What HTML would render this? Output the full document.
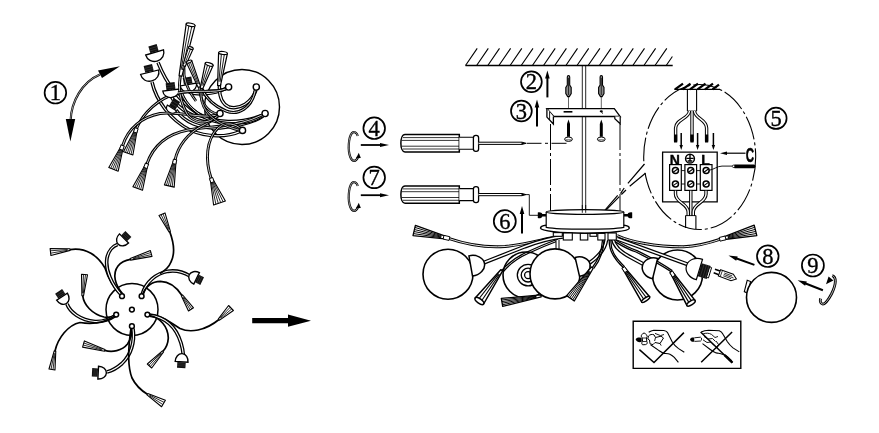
<!DOCTYPE html>
<html><head><meta charset="utf-8"><title>Assembly</title>
<style>
html,body{margin:0;padding:0;background:#fff;}
body{width:879px;height:433px;overflow:hidden;font-family:"Liberation Sans",sans-serif;}
svg{display:block;}
text{filter:grayscale(1);}
</style></head><body>
<svg width="879" height="433" viewBox="0 0 879 433">
<rect width="879" height="433" fill="#fff"/>
<circle cx="55.4" cy="92.7" r="10.8" fill="#fff" stroke="#000" stroke-width="1.7"/>
<text x="55.4" y="100.2" font-size="22.5" text-anchor="middle" font-family="&quot;Liberation Serif&quot;, serif" stroke="#000" stroke-width="0.35">1</text>
<path d="M70.6 121 C71 102 82 82 100 74.5" fill="none" stroke="#000" stroke-width="2.2" />
<path d="M70.6 121 C71 102 82 82 100 74.5" fill="none" stroke="#fff" stroke-width="0.6" />
<path d="M120 66.2L98 70.6L102 78Z" fill="#000"/>
<path d="M70.4 141.5L65.8 119L75.2 119Z" fill="#000"/>
<circle cx="242" cy="107" r="37.5" fill="none" stroke="#000" stroke-width="1.4"/>
<path d="M158 62.5 C165 80 178 100 197 113 C215 124 240 124 262 115.5" fill="none" stroke="#000" stroke-width="3.5" stroke-linecap="butt"/>
<path d="M158 62.5 C165 80 178 100 197 113 C215 124 240 124 262 115.5" fill="none" stroke="#fff" stroke-width="1.1" stroke-linecap="butt"/>
<path d="M152 82 C156 100 170 120 190 130 C208 138 228 137 240 131.5" fill="none" stroke="#000" stroke-width="3.5" stroke-linecap="butt"/>
<path d="M152 82 C156 100 170 120 190 130 C208 138 228 137 240 131.5" fill="none" stroke="#fff" stroke-width="1.1" stroke-linecap="butt"/>
<path d="M171 96 C176 106 188 115 203 119 C210 120.5 215 118 218 115.5" fill="none" stroke="#000" stroke-width="3.5" stroke-linecap="butt"/>
<path d="M171 96 C176 106 188 115 203 119 C210 120.5 215 118 218 115.5" fill="none" stroke="#fff" stroke-width="1.1" stroke-linecap="butt"/>
<path d="M189 92 C197 95 212 95 226 88.5" fill="none" stroke="#000" stroke-width="3.5" stroke-linecap="butt"/>
<path d="M189 92 C197 95 212 95 226 88.5" fill="none" stroke="#fff" stroke-width="1.1" stroke-linecap="butt"/>
<path d="M256 90 C252 102 240 110 229 107 C220 103 219 92 219.5 84" fill="none" stroke="#000" stroke-width="3.5" stroke-linecap="butt"/>
<path d="M256 90 C252 102 240 110 229 107 C220 103 219 92 219.5 84" fill="none" stroke="#fff" stroke-width="1.1" stroke-linecap="butt"/>
<path d="M176 110 C184 122 200 129 220 128 C240 126 256 121 263 116" fill="none" stroke="#000" stroke-width="3.5" stroke-linecap="butt"/>
<path d="M176 110 C184 122 200 129 220 128 C240 126 256 121 263 116" fill="none" stroke="#fff" stroke-width="1.1" stroke-linecap="butt"/>
<path d="M255.3 90 C252 108 238 116 226 111 C214 106 206 98 202 89" fill="none" stroke="#000" stroke-width="3.1" stroke-linecap="butt"/>
<path d="M255.3 90 C252 108 238 116 226 111 C214 106 206 98 202 89" fill="none" stroke="#fff" stroke-width="0.9" stroke-linecap="butt"/>
<path d="M262 116 C250 124 228 126 210 120 C196 114 186 104 182 94" fill="none" stroke="#000" stroke-width="3.1" stroke-linecap="butt"/>
<path d="M262 116 C250 124 228 126 210 120 C196 114 186 104 182 94" fill="none" stroke="#fff" stroke-width="0.9" stroke-linecap="butt"/>
<path d="M136.4 128.7 C143 113 158.5 98 178 93 C196 89 214 94 226.3 88.7" fill="none" stroke="#000" stroke-width="2.9" stroke-linecap="butt"/>
<path d="M136.4 128.7 C143 113 158.5 98 178 93 C196 89 214 94 226.3 88.7" fill="none" stroke="#fff" stroke-width="0.8" stroke-linecap="butt"/>
<path d="M122.5 146 C128 128 142 117 160 113.5 C180 111 200 119 218 115" fill="none" stroke="#000" stroke-width="2.9" stroke-linecap="butt"/>
<path d="M122.5 146 C128 128 142 117 160 113.5 C180 111 200 119 218 115" fill="none" stroke="#fff" stroke-width="0.8" stroke-linecap="butt"/>
<path d="M146.8 164.2 C153 146 167 134 188 130 C208 126 236 128 262 115" fill="none" stroke="#000" stroke-width="2.9" stroke-linecap="butt"/>
<path d="M146.8 164.2 C153 146 167 134 188 130 C208 126 236 128 262 115" fill="none" stroke="#fff" stroke-width="0.8" stroke-linecap="butt"/>
<path d="M175 160 C178 146 188 133 202 126 C210 122 216 118 218.5 115.5" fill="none" stroke="#000" stroke-width="2.9" stroke-linecap="butt"/>
<path d="M175 160 C178 146 188 133 202 126 C210 122 216 118 218.5 115.5" fill="none" stroke="#fff" stroke-width="0.8" stroke-linecap="butt"/>
<path d="M211.2 178.5 C205 160 206 140 218 128 C226 121 236 124 241 129" fill="none" stroke="#000" stroke-width="2.9" stroke-linecap="butt"/>
<path d="M211.2 178.5 C205 160 206 140 218 128 C226 121 236 124 241 129" fill="none" stroke="#fff" stroke-width="0.8" stroke-linecap="butt"/>
<g transform="translate(154.6 52.4) rotate(-106.5) scale(1)">
<path d="M0 -9.3 C-4.95 -9.3 -9 -5.58 -9 0 C-9 5.58 -4.95 9.3 0 9.3 Z" fill="#fff" stroke="#000" stroke-width="1.30"/>
<rect x="0.4" y="-4.3" width="7" height="8.6" fill="#111"/>
<path d="M2.7 -4.3V4.3M4.9 -4.3V4.3" stroke="#555" stroke-width="0.4"/>
</g>
<g transform="translate(149.6 72.2) rotate(-104) scale(1)">
<path d="M0 -9.3 C-4.95 -9.3 -9 -5.58 -9 0 C-9 5.58 -4.95 9.3 0 9.3 Z" fill="#fff" stroke="#000" stroke-width="1.30"/>
<rect x="0.4" y="-4.3" width="7" height="8.6" fill="#111"/>
<path d="M2.7 -4.3V4.3M4.9 -4.3V4.3" stroke="#555" stroke-width="0.4"/>
</g>
<g transform="translate(171 90) rotate(-97) scale(1)">
<path d="M0 -8.3 C-4.125 -8.3 -7.5 -4.98 -7.5 0 C-7.5 4.98 -4.125 8.3 0 8.3 Z" fill="#fff" stroke="#000" stroke-width="1.30"/>
<rect x="0.4" y="-4.5" width="7" height="9" fill="#111"/>
<path d="M2.7 -4.5V4.5M4.9 -4.5V4.5" stroke="#555" stroke-width="0.4"/>
</g>
<g transform="translate(188.3 84.5) rotate(-100) scale(1)">
<path d="M0 -8.3 C-4.125 -8.3 -7.5 -4.98 -7.5 0 C-7.5 4.98 -4.125 8.3 0 8.3 Z" fill="#fff" stroke="#000" stroke-width="1.30"/>
<rect x="0.4" y="-4.3" width="7" height="8.6" fill="#111"/>
<path d="M2.7 -4.3V4.3M4.9 -4.3V4.3" stroke="#555" stroke-width="0.4"/>
</g>
<g transform="translate(172 108) rotate(-58) scale(1)">
<path d="M0 -5.5 C-2.75 -5.5 -5 -3.3 -5 0 C-5 3.3 -2.75 5.5 0 5.5 Z" fill="#fff" stroke="#000" stroke-width="1.20"/>
<rect x="0.4" y="-3.75" width="9" height="7.5" fill="#111"/>
<path d="M3.4 -3.75V3.75M6.3 -3.75V3.75" stroke="#555" stroke-width="0.4"/>
</g>
<path d="M180.3 76 C178 88 180 101 187 114 C193 122 205 126 217 116.5" fill="none" stroke="#000" stroke-width="2.9" stroke-linecap="butt"/>
<path d="M180.3 76 C178 88 180 101 187 114 C193 122 205 126 217 116.5" fill="none" stroke="#fff" stroke-width="0.8" stroke-linecap="butt"/>
<path d="M199.4 87 C200 100 206 112 218 114" fill="none" stroke="#000" stroke-width="2.7" stroke-linecap="butt"/>
<path d="M199.4 87 C200 100 206 112 218 114" fill="none" stroke="#fff" stroke-width="0.7" stroke-linecap="butt"/>
<path d="M201.4 88.5 C199 104 206 122 240 130.4" fill="none" stroke="#000" stroke-width="2.7" stroke-linecap="butt"/>
<path d="M201.4 88.5 C199 104 206 122 240 130.4" fill="none" stroke="#fff" stroke-width="0.7" stroke-linecap="butt"/>
<path d="M184 66 C183 76 186 88 196 101" fill="none" stroke="#000" stroke-width="2.7" stroke-linecap="butt"/>
<path d="M184 66 C183 76 186 88 196 101" fill="none" stroke="#fff" stroke-width="0.7" stroke-linecap="butt"/>
<path d="M178 93 C196 89 214 94 226.3 88.7" fill="none" stroke="#000" stroke-width="2.9" stroke-linecap="butt"/>
<path d="M178 93 C196 89 214 94 226.3 88.7" fill="none" stroke="#fff" stroke-width="0.8" stroke-linecap="butt"/>
<circle cx="228.6" cy="87" r="3.1" fill="#fff" stroke="#000" stroke-width="1.4"/>
<circle cx="256.3" cy="87" r="3.1" fill="#fff" stroke="#000" stroke-width="1.4"/>
<circle cx="220" cy="113.5" r="3.1" fill="#fff" stroke="#000" stroke-width="1.4"/>
<circle cx="265.1" cy="113.5" r="3.1" fill="#fff" stroke="#000" stroke-width="1.4"/>
<circle cx="242.5" cy="130.4" r="3.1" fill="#fff" stroke="#000" stroke-width="1.4"/>
<path d="M181.9 76.3L179.1 75.7L186.2 23.9L195.0 25.7Z" fill="#fff" stroke="#000" stroke-width="1.2" stroke-linejoin="round"/>
<path d="M182.3 70.0L192.1 25.1" stroke="#000" stroke-width="0.90" fill="none"/>
<path d="M181.1 69.7L189.1 24.5" stroke="#000" stroke-width="0.90" fill="none"/>
<ellipse cx="190.6" cy="24.8" rx="1.6" ry="4.5" transform="rotate(-78.8 190.6 24.8)" fill="#fff" stroke="#000" stroke-width="1.2"/>
<path d="M185.2 66.4L182.8 65.6L188.5 47.1L193.1 48.9Z" fill="#fff" stroke="#000" stroke-width="1.1" stroke-linejoin="round"/>
<path d="M184.8 63.8L190.8 48.0" stroke="#000" stroke-width="0.83" fill="none"/>
<ellipse cx="190.8" cy="48.0" rx="1.2" ry="2.5" transform="rotate(-69.3 190.8 48.0)" fill="#fff" stroke="#000" stroke-width="1.1"/>
<path d="M200.6 86.5L198.2 87.5L186.5 62.7L191.7 60.5Z" fill="#fff" stroke="#000" stroke-width="1.1" stroke-linejoin="round"/>
<path d="M198.6 83.8L190.0 61.2" stroke="#000" stroke-width="0.83" fill="none"/>
<path d="M197.7 84.1L188.2 62.0" stroke="#000" stroke-width="0.83" fill="none"/>
<ellipse cx="189.1" cy="61.6" rx="1.2" ry="2.8" transform="rotate(-112.1 189.1 61.6)" fill="#fff" stroke="#000" stroke-width="1.1"/>
<path d="M202.6 88.9L200.2 88.1L205.3 63.0L213.1 65.6Z" fill="#fff" stroke="#000" stroke-width="1.2" stroke-linejoin="round"/>
<path d="M202.9 85.8L210.5 64.7" stroke="#000" stroke-width="0.90" fill="none"/>
<path d="M201.8 85.4L207.9 63.9" stroke="#000" stroke-width="0.90" fill="none"/>
<ellipse cx="209.2" cy="64.3" rx="1.5" ry="4.1" transform="rotate(-72.1 209.2 64.3)" fill="#fff" stroke="#000" stroke-width="1.2"/>
<path d="M220.4 85.8L217.6 85.4L218.6 52.5L227.4 53.5Z" fill="#fff" stroke="#000" stroke-width="1.2" stroke-linejoin="round"/>
<path d="M220.1 81.8L224.5 53.2" stroke="#000" stroke-width="0.90" fill="none"/>
<path d="M218.9 81.6L221.5 52.8" stroke="#000" stroke-width="0.90" fill="none"/>
<ellipse cx="223.0" cy="53.0" rx="1.5" ry="4.4" transform="rotate(-83.0 223.0 53.0)" fill="#fff" stroke="#000" stroke-width="1.2"/>
<path d="M135.4 128.4L137.4 129.0L132.9 155.0L123.5 151.8Z" fill="#fff" stroke="#000" stroke-width="1.1" stroke-linejoin="round"/>
<path d="M134.5 131.4L125.4 152.5" stroke="#000" stroke-width="0.83" fill="none"/>
<path d="M135.1 131.6L127.3 153.1" stroke="#000" stroke-width="0.83" fill="none"/>
<path d="M135.7 131.8L129.1 153.7" stroke="#000" stroke-width="0.83" fill="none"/>
<path d="M136.3 132.0L131.0 154.3" stroke="#000" stroke-width="0.83" fill="none"/>
<rect x="-0.5" y="-1.7" width="4.5" height="3.4" fill="#fff" stroke="#000" stroke-width="0.9" transform="translate(136.4 128.7) rotate(108.4)"/>
<path d="M121.5 145.6L123.5 146.4L118.2 171.2L108.8 167.6Z" fill="#fff" stroke="#000" stroke-width="1.1" stroke-linejoin="round"/>
<path d="M120.5 148.5L110.7 168.3" stroke="#000" stroke-width="0.83" fill="none"/>
<path d="M121.1 148.7L112.6 169.0" stroke="#000" stroke-width="0.83" fill="none"/>
<path d="M121.7 148.9L114.4 169.8" stroke="#000" stroke-width="0.83" fill="none"/>
<path d="M122.3 149.1L116.3 170.5" stroke="#000" stroke-width="0.83" fill="none"/>
<rect x="-0.5" y="-1.7" width="4.5" height="3.4" fill="#fff" stroke="#000" stroke-width="0.9" transform="translate(122.5 146) rotate(111.0)"/>
<path d="M145.8 163.8L147.8 164.6L142.5 190.3L132.9 186.7Z" fill="#fff" stroke="#000" stroke-width="1.1" stroke-linejoin="round"/>
<path d="M144.8 166.8L134.8 187.4" stroke="#000" stroke-width="0.83" fill="none"/>
<path d="M145.4 167.0L136.7 188.1" stroke="#000" stroke-width="0.83" fill="none"/>
<path d="M146.0 167.2L138.7 188.9" stroke="#000" stroke-width="0.83" fill="none"/>
<path d="M146.6 167.4L140.6 189.6" stroke="#000" stroke-width="0.83" fill="none"/>
<rect x="-0.5" y="-1.7" width="4.5" height="3.4" fill="#fff" stroke="#000" stroke-width="0.9" transform="translate(146.8 164.2) rotate(110.5)"/>
<path d="M173.9 159.8L176.1 160.2L174.2 187.1L164.4 184.9Z" fill="#fff" stroke="#000" stroke-width="1.1" stroke-linejoin="round"/>
<path d="M173.4 162.9L166.4 185.4" stroke="#000" stroke-width="0.83" fill="none"/>
<path d="M174.0 163.1L168.3 185.8" stroke="#000" stroke-width="0.83" fill="none"/>
<path d="M174.6 163.2L170.3 186.2" stroke="#000" stroke-width="0.83" fill="none"/>
<path d="M175.2 163.3L172.2 186.6" stroke="#000" stroke-width="0.83" fill="none"/>
<rect x="-0.5" y="-1.7" width="4.5" height="3.4" fill="#fff" stroke="#000" stroke-width="0.9" transform="translate(175 160) rotate(102.4)"/>
<path d="M210.2 178.9L212.2 178.1L225.4 201.0L213.6 205.0Z" fill="#fff" stroke="#000" stroke-width="1.1" stroke-linejoin="round"/>
<path d="M211.2 181.8L215.9 204.2" stroke="#000" stroke-width="0.83" fill="none"/>
<path d="M211.9 181.6L218.3 203.4" stroke="#000" stroke-width="0.83" fill="none"/>
<path d="M212.5 181.3L220.7 202.6" stroke="#000" stroke-width="0.83" fill="none"/>
<path d="M213.2 181.1L223.1 201.8" stroke="#000" stroke-width="0.83" fill="none"/>
<rect x="-0.5" y="-1.7" width="4.5" height="3.4" fill="#fff" stroke="#000" stroke-width="0.9" transform="translate(211.2 178.5) rotate(71.3)"/>
<circle cx="132" cy="309.5" r="26" fill="none" stroke="#000" stroke-width="1.5"/>
<path d="M70 249.6 C86 247 98 256 105 268 C108 278 114 288 121 295" fill="none" stroke="#000" stroke-width="1.7" />
<path d="M121.5 295 C112 285 105 270 107 258 C108.5 251 113 246 117.5 244.5" fill="none" stroke="#000" stroke-width="3.7" stroke-linecap="butt"/>
<path d="M121.5 295 C112 285 105 270 107 258 C108.5 251 113 246 117.5 244.5" fill="none" stroke="#fff" stroke-width="1.1" stroke-linecap="butt"/>
<path d="M82.7 295.8 C84 305 92 314 104 317 C109 318 113 316.5 115.5 315" fill="none" stroke="#000" stroke-width="1.7" />
<path d="M67 304 C70 312 80 320 95 321.5 C104 322 111 318.5 115.5 315.5" fill="none" stroke="#000" stroke-width="3.7" stroke-linecap="butt"/>
<path d="M67 304 C70 312 80 320 95 321.5 C104 322 111 318.5 115.5 315.5" fill="none" stroke="#fff" stroke-width="1.1" stroke-linecap="butt"/>
<path d="M115 316 C105 322.5 92 324.5 80 322.5 C68 325 58 338 55 351" fill="none" stroke="#000" stroke-width="1.7" />
<path d="M104.7 350.4 C112 352.5 122 351 127.5 344 C131 339 132 333 132 328.5" fill="none" stroke="#000" stroke-width="1.7" />
<path d="M133 328.5 C135 342 131 355 122 363.5 C117 368 111 371 107 372" fill="none" stroke="#000" stroke-width="3.7" stroke-linecap="butt"/>
<path d="M133 328.5 C135 342 131 355 122 363.5 C117 368 111 371 107 372" fill="none" stroke="#fff" stroke-width="1.1" stroke-linecap="butt"/>
<path d="M131 328.5 C128.5 345 127 365 132 378 C136 386 142 391 147.4 394.2" fill="none" stroke="#000" stroke-width="1.7" />
<path d="M149.5 314.8 C160 315 170 322 180 328.5 C190 333 205 331 219 319.5" fill="none" stroke="#000" stroke-width="1.7" />
<path d="M149.5 315.2 C165 317 176 327 181 343 C182.5 348 183 351 183.2 354" fill="none" stroke="#000" stroke-width="3.7" stroke-linecap="butt"/>
<path d="M149.5 315.2 C165 317 176 327 181 343 C182.5 348 183 351 183.2 354" fill="none" stroke="#fff" stroke-width="1.1" stroke-linecap="butt"/>
<path d="M150 315.5 C160 318 168 326 168.3 338 C168 344 166 348 163 351.3" fill="none" stroke="#000" stroke-width="1.7" />
<path d="M142.3 294 C146 282 156 273.5 168 271.3 C177 270 185 273 190 276" fill="none" stroke="#000" stroke-width="3.7" stroke-linecap="butt"/>
<path d="M142.3 294 C146 282 156 273.5 168 271.3 C177 270 185 273 190 276" fill="none" stroke="#fff" stroke-width="1.1" stroke-linecap="butt"/>
<path d="M142.5 294.5 C146 286 153 281.5 160.5 281.4 C170 281.5 177 288 182 295.4" fill="none" stroke="#000" stroke-width="1.7" />
<path d="M122.8 294 C115 285 112 274 118 266 C121 262 126 260 130.4 259.3" fill="none" stroke="#000" stroke-width="1.7" />
<path d="M169.7 231.6 C174 243 175 254 171 262 C169 267 166 270 160 273.5" fill="none" stroke="#000" stroke-width="1.7" />
<circle cx="122" cy="296.2" r="2.4" fill="#fff" stroke="#000" stroke-width="1.5"/>
<circle cx="141.6" cy="296.2" r="2.4" fill="#fff" stroke="#000" stroke-width="1.5"/>
<circle cx="116.2" cy="314.6" r="2.4" fill="#fff" stroke="#000" stroke-width="1.5"/>
<circle cx="147.4" cy="314.6" r="2.4" fill="#fff" stroke="#000" stroke-width="1.5"/>
<circle cx="131.9" cy="326.2" r="2.4" fill="#fff" stroke="#000" stroke-width="1.5"/>
<circle cx="131.9" cy="309.6" r="2.4" fill="#fff" stroke="#000" stroke-width="1.5"/>
<g transform="translate(124 238.4) rotate(-45) scale(1.0)">
<path d="M0 -6.4 C-4.51 -6.4 -8.2 -3.84 -8.2 0 C-8.2 3.84 -4.51 6.4 0 6.4 Z" fill="#fff" stroke="#000" stroke-width="1.40"/>
<rect x="0.4" y="-4.2" width="5.8" height="8.4" fill="#111"/>
<path d="M2.2 -4.2V4.2M4.1 -4.2V4.2" stroke="#555" stroke-width="0.4"/>
</g>
<g transform="translate(62 296.6) rotate(-123) scale(1.0)">
<path d="M0 -6.4 C-4.51 -6.4 -8.2 -3.84 -8.2 0 C-8.2 3.84 -4.51 6.4 0 6.4 Z" fill="#fff" stroke="#000" stroke-width="1.40"/>
<rect x="0.4" y="-4.2" width="5.8" height="8.4" fill="#111"/>
<path d="M2.2 -4.2V4.2M4.1 -4.2V4.2" stroke="#555" stroke-width="0.4"/>
</g>
<g transform="translate(98.2 372.6) rotate(183) scale(1.0)">
<path d="M0 -6.4 C-4.51 -6.4 -8.2 -3.84 -8.2 0 C-8.2 3.84 -4.51 6.4 0 6.4 Z" fill="#fff" stroke="#000" stroke-width="1.40"/>
<rect x="0.4" y="-4.2" width="5.8" height="8.4" fill="#111"/>
<path d="M2.2 -4.2V4.2M4.1 -4.2V4.2" stroke="#555" stroke-width="0.4"/>
</g>
<g transform="translate(181.6 361.8) rotate(94) scale(1.0)">
<path d="M0 -6.4 C-4.51 -6.4 -8.2 -3.84 -8.2 0 C-8.2 3.84 -4.51 6.4 0 6.4 Z" fill="#fff" stroke="#000" stroke-width="1.40"/>
<rect x="0.4" y="-4.2" width="5.8" height="8.4" fill="#111"/>
<path d="M2.2 -4.2V4.2M4.1 -4.2V4.2" stroke="#555" stroke-width="0.4"/>
</g>
<g transform="translate(196.6 278.4) rotate(26) scale(1.0)">
<path d="M0 -6.4 C-4.51 -6.4 -8.2 -3.84 -8.2 0 C-8.2 3.84 -4.51 6.4 0 6.4 Z" fill="#fff" stroke="#000" stroke-width="1.40"/>
<rect x="0.4" y="-4.2" width="5.8" height="8.4" fill="#111"/>
<path d="M2.2 -4.2V4.2M4.1 -4.2V4.2" stroke="#555" stroke-width="0.4"/>
</g>
<path d="M69.9 248.8L70.1 250.4L50.9 255.5L50.1 248.5Z" fill="#fff" stroke="#000" stroke-width="1.1" stroke-linejoin="round"/>
<path d="M67.6 249.5L50.4 250.8" stroke="#000" stroke-width="0.83" fill="none"/>
<path d="M67.7 250.3L50.6 253.2" stroke="#000" stroke-width="0.83" fill="none"/>
<path d="M83.5 295.9L81.9 295.7L81.5 274.2L87.5 274.8Z" fill="#fff" stroke="#000" stroke-width="1.1" stroke-linejoin="round"/>
<path d="M83.3 293.3L85.5 274.6" stroke="#000" stroke-width="0.83" fill="none"/>
<path d="M82.6 293.2L83.5 274.4" stroke="#000" stroke-width="0.83" fill="none"/>
<path d="M54.2 350.9L55.8 351.1L55.0 370.0L49.0 369.0Z" fill="#fff" stroke="#000" stroke-width="1.1" stroke-linejoin="round"/>
<path d="M54.3 353.2L51.0 369.3" stroke="#000" stroke-width="0.83" fill="none"/>
<path d="M55.0 353.3L53.0 369.7" stroke="#000" stroke-width="0.83" fill="none"/>
<path d="M104.9 349.6L104.5 351.2L82.6 347.1L84.4 340.9Z" fill="#fff" stroke="#000" stroke-width="1.1" stroke-linejoin="round"/>
<path d="M102.3 349.3L83.8 343.0" stroke="#000" stroke-width="0.83" fill="none"/>
<path d="M102.1 350.0L83.2 345.0" stroke="#000" stroke-width="0.83" fill="none"/>
<path d="M147.0 394.9L147.8 393.5L165.4 400.3L161.6 406.7Z" fill="#fff" stroke="#000" stroke-width="1.1" stroke-linejoin="round"/>
<path d="M149.1 395.6L162.9 404.6" stroke="#000" stroke-width="0.83" fill="none"/>
<path d="M149.5 395.0L164.1 402.4" stroke="#000" stroke-width="0.83" fill="none"/>
<path d="M219.6 320.1L218.4 318.9L228.6 305.5L233.4 310.5Z" fill="#fff" stroke="#000" stroke-width="1.1" stroke-linejoin="round"/>
<path d="M220.7 318.4L231.8 308.8" stroke="#000" stroke-width="0.83" fill="none"/>
<path d="M220.2 317.8L230.2 307.2" stroke="#000" stroke-width="0.83" fill="none"/>
<path d="M162.4 350.8L163.6 351.8L151.7 368.0L147.3 364.0Z" fill="#fff" stroke="#000" stroke-width="1.1" stroke-linejoin="round"/>
<path d="M161.1 352.8L148.8 365.3" stroke="#000" stroke-width="0.83" fill="none"/>
<path d="M161.6 353.3L150.2 366.7" stroke="#000" stroke-width="0.83" fill="none"/>
<path d="M181.3 295.8L182.7 295.0L193.5 307.8L188.5 311.0Z" fill="#fff" stroke="#000" stroke-width="1.1" stroke-linejoin="round"/>
<path d="M182.8 297.3L190.2 309.9" stroke="#000" stroke-width="0.83" fill="none"/>
<path d="M183.4 296.9L191.8 308.9" stroke="#000" stroke-width="0.83" fill="none"/>
<path d="M130.6 260.1L130.2 258.5L150.4 250.6L152.0 256.4Z" fill="#fff" stroke="#000" stroke-width="1.1" stroke-linejoin="round"/>
<path d="M133.0 258.9L151.5 254.5" stroke="#000" stroke-width="0.83" fill="none"/>
<path d="M132.8 258.3L150.9 252.5" stroke="#000" stroke-width="0.83" fill="none"/>
<path d="M170.4 231.3L169.0 231.9L159.0 215.5L165.0 212.9Z" fill="#fff" stroke="#000" stroke-width="1.1" stroke-linejoin="round"/>
<path d="M169.1 229.4L163.0 213.8" stroke="#000" stroke-width="0.83" fill="none"/>
<path d="M168.4 229.7L161.0 214.6" stroke="#000" stroke-width="0.83" fill="none"/>
<path d="M252.2 318.1H288V314.6L311 320.7L288 326.8V323.3H252.2Z" fill="#000"/>
<path d="M465.5 65.5H672.7" fill="none" stroke="#000" stroke-width="1.4" />
<path d="M465.5 65.5L477.2 48.4M476.6 65.5L488.3 48.4M487.8 65.5L499.5 48.4M498.9 65.5L510.6 48.4M510.1 65.5L521.8 48.4M521.2 65.5L533.0 48.4M532.4 65.5L544.1 48.4M543.5 65.5L555.2 48.4M554.7 65.5L566.4 48.4M565.9 65.5L577.5 48.4M577.0 65.5L588.7 48.4M588.1 65.5L599.9 48.4M599.3 65.5L611.0 48.4M610.5 65.5L622.1 48.4M621.6 65.5L633.3 48.4M632.8 65.5L644.5 48.4M643.9 65.5L655.6 48.4M655.0 65.5L666.8 48.4M666.2 65.5L672.4 56.5" fill="none" stroke="#000" stroke-width="1.1" />
<path d="M582.3 65.5V212M585.7 65.5V212" fill="none" stroke="#000" stroke-width="0.85" />
<circle cx="531.4" cy="81.8" r="10.4" fill="#fff" stroke="#000" stroke-width="1.7"/>
<text x="531.4" y="89.3" font-size="22.5" text-anchor="middle" font-family="&quot;Liberation Serif&quot;, serif" stroke="#000" stroke-width="0.35">2</text>
<path d="M547.4 97.4L547.4 77.4" stroke="#000" stroke-width="2" fill="none"/>
<path d="M547.4 70.4L549.7 78.4L545.1 78.4Z" fill="#000"/>
<circle cx="521.4" cy="111" r="10.4" fill="#fff" stroke="#000" stroke-width="1.7"/>
<text x="521.4" y="118.5" font-size="22.5" text-anchor="middle" font-family="&quot;Liberation Serif&quot;, serif" stroke="#000" stroke-width="0.35">3</text>
<path d="M537.0 126.6L537.0 106.5" stroke="#000" stroke-width="2" fill="none"/>
<path d="M537.0 99.5L539.3 107.5L534.7 107.5Z" fill="#000"/>
<path d="M567.3 77 C567.3 75 569.7 75 569.7 77 V85 L571.2 87.5 V93.5 L569.3 96.6 H567.7 L565.8 93.5 V87.5 L567.3 85 Z" fill="#8a8a8a" stroke="#000" stroke-width="1.1"/>
<path d="M568.5 78V95" stroke="#000" stroke-width="0.7"/>
<path d="M568.5 96.6V110.5" stroke="#000" stroke-width="0.6"/>
<path d="M600.0999999999999 77 C600.0999999999999 75 602.5 75 602.5 77 V85 L604.0 87.5 V93.5 L602.0999999999999 96.6 H600.5 L598.5999999999999 93.5 V87.5 L600.0999999999999 85 Z" fill="#8a8a8a" stroke="#000" stroke-width="1.1"/>
<path d="M601.3 78V95" stroke="#000" stroke-width="0.7"/>
<path d="M601.3 96.6V110.5" stroke="#000" stroke-width="0.6"/>
<path d="M546.9 108.6H614.3L620.2 116.5H553.8Z" fill="#fff" stroke="#000" stroke-width="1.3" />
<path d="M546.9 108.6V117.1L553.4 124V116.5" fill="#fff" stroke="#000" stroke-width="1.3" />
<path d="M549.6 111.8V120" fill="none" stroke="#000" stroke-width="0.9" />
<path d="M620.2 116.5V123.8L614.8 118.8V116.5" fill="#fff" stroke="#000" stroke-width="1.2" />
<path d="M563.6 111.8H572.4" fill="none" stroke="#000" stroke-width="1.6" />
<ellipse cx="601.3" cy="111.3" rx="1.6" ry="1.1" fill="#000"/>
<path d="M601.3 112L603 113.5" fill="none" stroke="#000" stroke-width="1" />
<path d="M568.5 119.6L570.0 124V136.8H567.0V124Z" fill="#000"/>
<ellipse cx="568.5" cy="139.2" rx="3.9" ry="2.2" fill="#fff" stroke="#000" stroke-width="1"/>
<path d="M565.5 139.8H571.5" stroke="#000" stroke-width="0.6"/>
<path d="M601.3 119.6L602.8 124V136.8H599.8V124Z" fill="#000"/>
<ellipse cx="601.3" cy="139.2" rx="3.9" ry="2.2" fill="#fff" stroke="#000" stroke-width="1"/>
<path d="M598.3 139.8H604.3" stroke="#000" stroke-width="0.6"/>
<path d="M550.5 124V211" fill="none" stroke="#000" stroke-width="1" stroke-dasharray="26 3 3 3"/>
<path d="M620 124V211" fill="none" stroke="#000" stroke-width="1" stroke-dasharray="26 3 3 3"/>
<path d="M526.5 143.3H566.5" fill="none" stroke="#000" stroke-width="1" stroke-dasharray="15 3.5 3 3.5"/>
<path d="M405 134.60000000000002H459.3V152.0H405C399.5 152.0 399.5 134.60000000000002 405 134.60000000000002Z" fill="#fff" stroke="#000" stroke-width="1.5"/>
<path d="M403 137.60000000000002H459.3M401.6 140.4H459.3M401.6 146.20000000000002H459.3M403 149.0H459.3" stroke="#000" stroke-width="0.8" fill="none"/>
<path d="M459.3 137.3H473.6V149.3H459.3" fill="#fff" stroke="#000" stroke-width="1.1"/>
<rect x="473.4" y="135.3" width="5.2" height="16" rx="2.4" fill="#fff" stroke="#000" stroke-width="1.3"/>
<path d="M478.6 142.20000000000002H522L526 143.3L522 144.4H478.6" fill="#fff" stroke="#000" stroke-width="1"/>
<path d="M521.5 142.20000000000002L526 143.3L521.5 144.4Z" fill="#000"/>
<path d="M405 185.9H459.3V203.29999999999998H405C399.5 203.29999999999998 399.5 185.9 405 185.9Z" fill="#fff" stroke="#000" stroke-width="1.5"/>
<path d="M403 188.9H459.3M401.6 191.7H459.3M401.6 197.5H459.3M403 200.29999999999998H459.3" stroke="#000" stroke-width="0.8" fill="none"/>
<path d="M459.3 188.6H473.6V200.6H459.3" fill="#fff" stroke="#000" stroke-width="1.1"/>
<rect x="473.4" y="186.6" width="5.2" height="16" rx="2.4" fill="#fff" stroke="#000" stroke-width="1.3"/>
<path d="M478.6 193.5H522L526 194.6L522 195.7H478.6" fill="#fff" stroke="#000" stroke-width="1"/>
<path d="M521.5 193.5L526 194.6L521.5 195.7Z" fill="#000"/>
<path d="M526 194.6H529.3V215.3H539" fill="none" stroke="#000" stroke-width="0.9" />
<circle cx="374.2" cy="128.2" r="10.8" fill="#fff" stroke="#000" stroke-width="1.7"/>
<text x="374.2" y="135.7" font-size="22.5" text-anchor="middle" font-family="&quot;Liberation Serif&quot;, serif" stroke="#000" stroke-width="0.35">4</text>
<circle cx="374.2" cy="177.4" r="10.8" fill="#fff" stroke="#000" stroke-width="1.7"/>
<text x="374.2" y="184.9" font-size="22.5" text-anchor="middle" font-family="&quot;Liberation Serif&quot;, serif" stroke="#000" stroke-width="0.35">7</text>
<path d="M360.8 145.0L381.0 145.0" stroke="#000" stroke-width="1.8" fill="none"/>
<path d="M389.0 145.0L380.0 147.0L380.0 143.0Z" fill="#000"/>
<path d="M360.8 195.2L381.0 195.2" stroke="#000" stroke-width="1.8" fill="none"/>
<path d="M389.0 195.2L380.0 197.2L380.0 193.2Z" fill="#000"/>
<g transform="translate(353.5 146.5)">
<path d="M4.3 -10.5 C3.5 -14 0.5 -15.5 -1.5 -13.5 C-5 -9.5 -6 4 -3 11 C-1 15.5 2.5 15.5 4.5 10.5" fill="none" stroke="#000" stroke-width="2.2"/>
<path d="M4.3 -10.5 C3.5 -14 0.5 -15.5 -1.5 -13.5 C-5 -9.5 -6 4 -3 11 C-1 15.5 2.5 15.5 4.5 10.5" fill="none" stroke="#fff" stroke-width="0.6"/>
<path d="M5.3 6.2L2.6 11.8L7.3 11.6Z" fill="#000"/>
</g>
<g transform="translate(353.5 196.5)">
<path d="M4.3 -10.5 C3.5 -14 0.5 -15.5 -1.5 -13.5 C-5 -9.5 -6 4 -3 11 C-1 15.5 2.5 15.5 4.5 10.5" fill="none" stroke="#000" stroke-width="2.2"/>
<path d="M4.3 -10.5 C3.5 -14 0.5 -15.5 -1.5 -13.5 C-5 -9.5 -6 4 -3 11 C-1 15.5 2.5 15.5 4.5 10.5" fill="none" stroke="#fff" stroke-width="0.6"/>
<path d="M5.3 6.2L2.6 11.8L7.3 11.6Z" fill="#000"/>
</g>
<circle cx="504.8" cy="221.2" r="11" fill="#fff" stroke="#000" stroke-width="1.7"/>
<text x="504.8" y="228.7" font-size="22.5" text-anchor="middle" font-family="&quot;Liberation Serif&quot;, serif" stroke="#000" stroke-width="0.35">6</text>
<path d="M522.0 233.5L522.0 213.0" stroke="#000" stroke-width="2" fill="none"/>
<path d="M522.0 206.0L524.3 214.0L519.7 214.0Z" fill="#000"/>
<ellipse cx="699.7" cy="157" rx="56" ry="72.5" fill="none" stroke="#000" stroke-width="1.1" stroke-dasharray="24 3 3 3"/>
<circle cx="776" cy="118.3" r="10.6" fill="#fff" stroke="#000" stroke-width="1.7"/>
<text x="776" y="125.8" font-size="22.5" text-anchor="middle" font-family="&quot;Liberation Serif&quot;, serif" stroke="#000" stroke-width="0.35">5</text>
<rect x="641" y="164.6" width="7" height="8.2" fill="#fff"/>
<path d="M644.5 164L627.9 183.4M624.2 188L620.5 193.6M617.7 195.4L603.9 211.3" fill="none" stroke="#000" stroke-width="1.2" />
<path d="M645.4 173.3L629.7 186.2M626 190L621.4 194.5M619.3 196.6L604.8 211.3" fill="none" stroke="#000" stroke-width="1.2" />
<path d="M674.3 89.4H720" fill="none" stroke="#000" stroke-width="1.3" />
<path d="M675 89.4L683 83.6M682.5 89.4L690.5 83.6M690 89.4L698 83.6M697.5 89.4L705.5 83.6M705 89.4L713 83.6M712.5 89.4L719 84.6" fill="none" stroke="#000" stroke-width="2.3" />
<path d="M687.4 89.4V111M696.6 89.4V111" fill="none" stroke="#000" stroke-width="1.1" />
<path d="M687.4 111H696.6" fill="none" stroke="#000" stroke-width="0.8" />
<path d="M689.5 111 C689 119 676 119 675.6 128 V141.5" fill="none" stroke="#000" stroke-width="3.4" stroke-linecap="butt"/>
<path d="M689.5 111 C689 119 676 119 675.6 128 V141.5" fill="none" stroke="#fff" stroke-width="1.4" stroke-linecap="butt"/>
<path d="M692 111 V141.5" fill="none" stroke="#000" stroke-width="3.4" stroke-linecap="butt"/>
<path d="M692 111 V141.5" fill="none" stroke="#fff" stroke-width="1.4" stroke-linecap="butt"/>
<path d="M694.5 111 C695 119 706.4 119 706.6 128 V141.5" fill="none" stroke="#000" stroke-width="3.4" stroke-linecap="butt"/>
<path d="M694.5 111 C695 119 706.4 119 706.6 128 V141.5" fill="none" stroke="#fff" stroke-width="1.4" stroke-linecap="butt"/>
<path d="M675.6 134.5V142.6M692 134.5V142.6M706.6 134.5V142.6" fill="none" stroke="#000" stroke-width="3.2" />
<path d="M681.2 133.0L681.2 146.0" stroke="#000" stroke-width="1.5" fill="none"/>
<path d="M681.2 150.0L679.5 145.0L682.9 145.0Z" fill="#000"/>
<path d="M697.6 133.0L697.6 146.0" stroke="#000" stroke-width="1.5" fill="none"/>
<path d="M697.6 150.0L695.9 145.0L699.3 145.0Z" fill="#000"/>
<path d="M713.4 133.0L713.4 146.0" stroke="#000" stroke-width="1.5" fill="none"/>
<path d="M713.4 150.0L711.7 145.0L715.1 145.0Z" fill="#000"/>
<path d="M662.6 152.1H717.2V201.8H662.6Z" fill="#fff" stroke="#000" stroke-width="1.3" />
<text x="674.8" y="164.6" font-size="14" font-weight="bold" stroke="#000" stroke-width="0.4" text-anchor="middle" font-family="&quot;Liberation Sans&quot;, sans-serif">N</text>
<text x="705.6" y="164.6" font-size="14" font-weight="bold" stroke="#000" stroke-width="0.4" text-anchor="middle" font-family="&quot;Liberation Sans&quot;, sans-serif">L</text>
<circle cx="690" cy="158.7" r="4.4" fill="#fff" stroke="#000" stroke-width="1.5"/>
<path d="M690 155V161M686.4 158.4H693.6M687.6 161H692.4" fill="none" stroke="#000" stroke-width="1.4" />
<rect x="669.6" y="164.6" width="11.7" height="25.8" fill="#fff" stroke="#000" stroke-width="1.2"/>
<circle cx="675.45" cy="170.6" r="3" fill="#fff" stroke="#000" stroke-width="1.5"/>
<path d="M673.2 172.2L677.7 169.0" fill="none" stroke="#000" stroke-width="1.1" />
<circle cx="675.45" cy="184" r="3" fill="#fff" stroke="#000" stroke-width="1.5"/>
<path d="M673.2 185.6L677.7 182.4" fill="none" stroke="#000" stroke-width="1.1" />
<rect x="684.9" y="164.6" width="11.7" height="25.8" fill="#fff" stroke="#000" stroke-width="1.2"/>
<circle cx="690.75" cy="170.6" r="3" fill="#fff" stroke="#000" stroke-width="1.5"/>
<path d="M688.5 172.2L693.0 169.0" fill="none" stroke="#000" stroke-width="1.1" />
<circle cx="690.75" cy="184" r="3" fill="#fff" stroke="#000" stroke-width="1.5"/>
<path d="M688.5 185.6L693.0 182.4" fill="none" stroke="#000" stroke-width="1.1" />
<rect x="700.3" y="164.6" width="11.7" height="25.8" fill="#fff" stroke="#000" stroke-width="1.2"/>
<circle cx="706.15" cy="170.6" r="3" fill="#fff" stroke="#000" stroke-width="1.5"/>
<path d="M703.9 172.2L708.4 169.0" fill="none" stroke="#000" stroke-width="1.1" />
<circle cx="706.15" cy="184" r="3" fill="#fff" stroke="#000" stroke-width="1.5"/>
<path d="M703.9 185.6L708.4 182.4" fill="none" stroke="#000" stroke-width="1.1" />
<path d="M681.3 170.6H684.9M696.6 170.6H700.3M681.3 184H684.9M696.6 184H700.3" fill="none" stroke="#000" stroke-width="0.9" />
<path d="M675.5 190.8 V194 C675.5 203 688 203 688.2 212 V216" fill="none" stroke="#000" stroke-width="3.4" stroke-linecap="butt"/>
<path d="M675.5 190.8 V194 C675.5 203 688 203 688.2 212 V216" fill="none" stroke="#fff" stroke-width="1.4" stroke-linecap="butt"/>
<path d="M690.8 190.8 V216" fill="none" stroke="#000" stroke-width="3.4" stroke-linecap="butt"/>
<path d="M690.8 190.8 V216" fill="none" stroke="#fff" stroke-width="1.4" stroke-linecap="butt"/>
<path d="M706 190.8 V194 C706 203 693.5 203 693.3 212 V216" fill="none" stroke="#000" stroke-width="3.4" stroke-linecap="butt"/>
<path d="M706 190.8 V194 C706 203 693.5 203 693.3 212 V216" fill="none" stroke="#fff" stroke-width="1.4" stroke-linecap="butt"/>
<path d="M685.6 215.6V228M695.9 215.6V229" fill="none" stroke="#000" stroke-width="1.1" />
<path d="M685.6 215.6H695.9" fill="none" stroke="#000" stroke-width="0.9" />
<path d="M745.5 153.2L726.0 153.2" stroke="#000" stroke-width="1.2" fill="none"/>
<path d="M720.0 153.2L727.0 151.4L727.0 155.0Z" fill="#000"/>
<text x="750" y="161.8" font-size="21" font-weight="bold" text-anchor="middle" font-family="&quot;Liberation Sans&quot;, sans-serif" transform="translate(750 0) scale(0.55 1) translate(-750 0)" stroke="#000" stroke-width="0.5">C</text>
<path d="M709 170.3 C714 169.5 717 166.2 722 166.1 H733" fill="none" stroke="#000" stroke-width="0.9" />
<rect x="733" y="164.4" width="22.5" height="3.8" rx="1.8" fill="#000"/>
<circle cx="733.5" cy="166.3" r="1.2" fill="#fff" stroke="#000" stroke-width="0.7"/>
<path d="M447.7 238.1 C465 244 485 248 505 246.5 C525 244.5 540 240 553 237.5" fill="none" stroke="#000" stroke-width="3" stroke-linecap="butt"/>
<path d="M447.7 238.1 C465 244 485 248 505 246.5 C525 244.5 540 240 553 237.5" fill="none" stroke="#fff" stroke-width="0.9" stroke-linecap="butt"/>
<path d="M617 235.5 C630 241.5 655 247 683.6 246.8 C700 246 712 242 721.2 238.9" fill="none" stroke="#000" stroke-width="3" stroke-linecap="butt"/>
<path d="M617 235.5 C630 241.5 655 247 683.6 246.8 C700 246 712 242 721.2 238.9" fill="none" stroke="#fff" stroke-width="0.9" stroke-linecap="butt"/>
<circle cx="526" cy="275" r="23" fill="#fff" stroke="#000" stroke-width="1.6"/>
<circle cx="528.1" cy="275.1" r="10.8" fill="#fff" stroke="#000" stroke-width="1.3"/>
<circle cx="528.1" cy="275.1" r="6.9" fill="#fff" stroke="#000" stroke-width="1.3"/>
<circle cx="528.1" cy="275.1" r="3.5" fill="#fff" stroke="#000" stroke-width="1.3"/>
<circle cx="677.5" cy="275" r="25" fill="#fff" stroke="#000" stroke-width="1.6"/>
<path d="M540.8 294.9L541.2 296.9L502.7 306.4L501.3 298.4Z" fill="#fff" stroke="#000" stroke-width="1.3" stroke-linejoin="round"/>
<path d="M536.2 295.9L501.6 300.0" stroke="#000" stroke-width="0.98" fill="none"/>
<path d="M536.3 296.4L501.9 301.6" stroke="#000" stroke-width="0.98" fill="none"/>
<path d="M536.4 297.0L502.1 303.2" stroke="#000" stroke-width="0.98" fill="none"/>
<path d="M536.5 297.5L502.4 304.8" stroke="#000" stroke-width="0.98" fill="none"/>
<path d="M501.9 270.4 C508 263 516 257 527 252 C540 246 550 242 558 239" fill="none" stroke="#000" stroke-width="1.3" />
<path d="M503.5 271.5 C509.5 264.3 517 258.5 528 253.5 C541 247.5 551 243.5 559 240.5" fill="none" stroke="#000" stroke-width="1.3" />
<path d="M483.5 262.8 L525 246.5 C540 241 552 238 563 236.8" fill="none" stroke="#000" stroke-width="4" stroke-linecap="butt"/>
<path d="M483.5 262.8 L525 246.5 C540 241 552 238 563 236.8" fill="none" stroke="#fff" stroke-width="1.5" stroke-linecap="butt"/>
<path d="M612.9 239 C614 247 622 253 632 258 L644 264.5" fill="none" stroke="#000" stroke-width="4" stroke-linecap="butt"/>
<path d="M612.9 239 C614 247 622 253 632 258 L644 264.5" fill="none" stroke="#fff" stroke-width="1.5" stroke-linecap="butt"/>
<path d="M609.3 240 C608.5 250 613 258 623.3 267.6" fill="none" stroke="#000" stroke-width="1.3" />
<path d="M611 240 C610.3 249.5 614.5 257 624.6 266.6" fill="none" stroke="#000" stroke-width="1.3" />
<path d="M546.2 212V227.3C560 229.8 610 229.8 623.8 227.3V212" fill="#fff" stroke="#000" stroke-width="1.2" />
<ellipse cx="585" cy="212" rx="38.8" ry="2.4" fill="#fff" stroke="#000" stroke-width="1.2"/>
<path d="M582.3 205V212.8M585.7 205V212.8" fill="none" stroke="#000" stroke-width="0.85" />
<path d="M546.2 225.3C543 225.6 540.5 226.8 540.5 228.2C541 231 560 233.2 585 233.2C610 233.2 629 231 629.3 228.2C629.3 226.8 627 225.6 623.8 225.3" fill="none" stroke="#000" stroke-width="1.4" />
<path d="M537.8 212.5C540 211.9 542 212.8 542.3 214.1H546V216.5H542.3C542 217.9 540 218.7 537.8 218.1Z" fill="#000"/>
<path d="M632.2 212.5C630 211.9 628 212.8 627.7 214.1H624V216.5H627.7C628 217.9 630 218.7 632.2 218.1Z" fill="#000"/>
<rect x="553.3" y="232.6" width="9.0" height="3.7" fill="#fff" stroke="#000" stroke-width="1.1"/>
<rect x="563.3" y="233" width="9.0" height="7.0" fill="#fff" stroke="#000" stroke-width="1.1"/>
<rect x="580.3" y="233.4" width="7.5" height="6.6" fill="#fff" stroke="#000" stroke-width="1.1"/>
<rect x="590" y="233.4" width="6.8" height="2.9" fill="#fff" stroke="#000" stroke-width="1.1"/>
<rect x="597.8" y="233.4" width="7.2" height="6.6" fill="#fff" stroke="#000" stroke-width="1.1"/>
<rect x="608" y="233" width="8.3" height="7.0" fill="#fff" stroke="#000" stroke-width="1.1"/>
<path d="M557.5 240V249.5" fill="none" stroke="#000" stroke-width="4" stroke-linecap="butt"/>
<path d="M557.5 240V249.5" fill="none" stroke="#fff" stroke-width="2" stroke-linecap="butt"/>
<path d="M589.5 263 C598 257 605 250 606.3 240" fill="none" stroke="#000" stroke-width="4" stroke-linecap="butt"/>
<path d="M589.5 263 C598 257 605 250 606.3 240" fill="none" stroke="#fff" stroke-width="1.5" stroke-linecap="butt"/>
<path d="M592.3 267.6 C598 260 602 252 602.5 240" fill="none" stroke="#000" stroke-width="1.3" />
<path d="M593.8 268.4 C599.5 261 603.6 252.5 604 240" fill="none" stroke="#000" stroke-width="1.3" />
<path d="M617 238.7 L687.5 264.3" fill="none" stroke="#000" stroke-width="4" stroke-linecap="butt"/>
<path d="M617 238.7 L687.5 264.3" fill="none" stroke="#fff" stroke-width="1.5" stroke-linecap="butt"/>
<path d="M615 241.6 C622 246 630 250 636 252 C646 257 660 264 671.1 271.8" fill="none" stroke="#000" stroke-width="1.3" />
<path d="M616 240.2 C623 244.5 631 248.6 637 250.6 C647 255.5 661 262.6 672.2 270.6" fill="none" stroke="#000" stroke-width="1.3" />
<circle cx="555" cy="273.9" r="25" fill="#fff" stroke="#000" stroke-width="1.6"/>
<circle cx="448" cy="274.2" r="25" fill="#fff" stroke="#000" stroke-width="1.6"/>
<g transform="translate(484.5 263.5) rotate(170)">
<path d="M14 -10.2 C6.3 -10.799999999999999 0 -5.61 0 0 C0 5.61 6.3 10.799999999999999 14 10.2 Z" fill="#fff" stroke="#000" stroke-width="1.5"/>
</g>
<g transform="translate(590 264) rotate(167)">
<path d="M13 -9.6 C5.8500000000000005 -10.2 0 -5.28 0 0 C0 5.28 5.8500000000000005 10.2 13 9.6 Z" fill="#fff" stroke="#000" stroke-width="1.5"/>
</g>
<g transform="translate(642.5 265.5) rotate(14)">
<path d="M13 -10.4 C5.8500000000000005 -11.0 0 -5.720000000000001 0 0 C0 5.720000000000001 5.8500000000000005 11.0 13 10.4 Z" fill="#fff" stroke="#000" stroke-width="1.5"/>
</g>
<g transform="translate(686.5 265.6) rotate(17)">
<path d="M13.5 -10.6 C6 -11.2 0 -6 0 0 C0 6 6 11.2 13.5 10.6 Z" fill="#fff" stroke="#000" stroke-width="1.2"/>
<rect x="13.8" y="-6.8" width="9.4" height="13.6" fill="#111"/>
<path d="M16.4 -6.8V6.8M19 -6.8V6.8M21.4 -6.8V6.8" stroke="#555" stroke-width="0.45"/>
<path d="M23.2 -5.4H24.6V5.4H23.2" stroke="#000" stroke-width="0.9" fill="#fff"/>
</g>
<path d="M445.3 236.2L444.7 238.8L413.0 235.6L415.4 225.4Z" fill="#fff" stroke="#000" stroke-width="1.3" stroke-linejoin="round"/>
<path d="M441.5 235.6L414.9 227.4" stroke="#000" stroke-width="0.98" fill="none"/>
<path d="M441.4 236.3L414.4 229.5" stroke="#000" stroke-width="0.98" fill="none"/>
<path d="M441.2 237.0L414.0 231.5" stroke="#000" stroke-width="0.98" fill="none"/>
<path d="M441.1 237.7L413.5 233.6" stroke="#000" stroke-width="0.98" fill="none"/>
<rect x="-3.0" y="-1.9" width="6" height="3.8" fill="#fff" stroke="#000" stroke-width="0.9" transform="translate(446.5 237.9) rotate(13)"/>
<path d="M500.8 269.7L502.6 270.9L483.6 304.0L475.2 298.0Z" fill="#fff" stroke="#000" stroke-width="1.5" stroke-linejoin="round"/>
<path d="M498.6 273.7L478.0 300.0" stroke="#000" stroke-width="1.12" fill="none"/>
<path d="M499.5 274.3L480.8 302.0" stroke="#000" stroke-width="1.12" fill="none"/>
<ellipse cx="479.4" cy="301.0" rx="2.2" ry="5.2" transform="rotate(126.0 479.4 301.0)" fill="#fff" stroke="#000" stroke-width="1.5"/>
<path d="M591.4 267.0L593.2 268.2L574.3 301.0L566.7 295.6Z" fill="#fff" stroke="#000" stroke-width="1.3" stroke-linejoin="round"/>
<path d="M588.9 270.8L568.2 296.7" stroke="#000" stroke-width="0.98" fill="none"/>
<path d="M589.4 271.1L569.7 297.8" stroke="#000" stroke-width="0.98" fill="none"/>
<path d="M589.9 271.5L571.3 298.8" stroke="#000" stroke-width="0.98" fill="none"/>
<path d="M590.4 271.8L572.8 299.9" stroke="#000" stroke-width="0.98" fill="none"/>
<path d="M622.4 268.2L624.2 267.0L649.6 296.7L641.8 302.1Z" fill="#fff" stroke="#000" stroke-width="1.5" stroke-linejoin="round"/>
<path d="M625.6 271.7L644.4 300.3" stroke="#000" stroke-width="1.12" fill="none"/>
<path d="M626.4 271.1L647.0 298.5" stroke="#000" stroke-width="1.12" fill="none"/>
<ellipse cx="645.7" cy="299.4" rx="1.6" ry="4.8" transform="rotate(54.8 645.7 299.4)" fill="#fff" stroke="#000" stroke-width="1.5"/>
<rect x="-2.5" y="-1.6" width="5" height="3.2" fill="#fff" stroke="#000" stroke-width="0.9" transform="translate(624.7 269.6) rotate(55)"/>
<path d="M670.2 272.4L672.0 271.2L695.0 300.4L687.0 305.6Z" fill="#fff" stroke="#000" stroke-width="1.5" stroke-linejoin="round"/>
<path d="M673.1 275.8L689.7 303.9" stroke="#000" stroke-width="1.12" fill="none"/>
<path d="M673.9 275.3L692.3 302.1" stroke="#000" stroke-width="1.12" fill="none"/>
<ellipse cx="691.0" cy="303.0" rx="2" ry="4.8" transform="rotate(57.5 691.0 303.0)" fill="#fff" stroke="#000" stroke-width="1.5"/>
<rect x="-2.5" y="-1.6" width="5" height="3.2" fill="#fff" stroke="#000" stroke-width="0.9" transform="translate(672.5 274) rotate(57)"/>
<path d="M724.3 239.5L723.7 236.9L754.2 225.2L756.8 235.6Z" fill="#fff" stroke="#000" stroke-width="1.3" stroke-linejoin="round"/>
<path d="M728.0 238.3L756.3 233.5" stroke="#000" stroke-width="0.98" fill="none"/>
<path d="M727.9 237.6L755.8 231.4" stroke="#000" stroke-width="0.98" fill="none"/>
<path d="M727.7 236.9L755.2 229.4" stroke="#000" stroke-width="0.98" fill="none"/>
<path d="M727.5 236.2L754.7 227.3" stroke="#000" stroke-width="0.98" fill="none"/>
<rect x="-3.0" y="-1.9" width="6" height="3.8" fill="#fff" stroke="#000" stroke-width="0.9" transform="translate(722.6 238.6) rotate(-14)"/>
<g transform="translate(727 275.6) rotate(20)">
<path d="M-13.5 -1.9H-8M-13.5 1.9H-8" stroke="#000" stroke-width="1.6" fill="none"/>
<path d="M-8 -3.4H5.5L10 0L5.5 3.4H-8Z" fill="#fff" stroke="#000" stroke-width="1"/>
<path d="M-6 -3.4V3.4M-3.5 -1.5H5M-3.5 1.5H5M-3.5 0H7" stroke="#000" stroke-width="0.7" fill="none"/>
</g>
<path d="M754.4 264.9L736.0 258.2" stroke="#000" stroke-width="2" fill="none"/>
<path d="M728.5 255.5L737.7 256.4L736.2 260.7Z" fill="#000"/>
<circle cx="767.8" cy="256.2" r="10.8" fill="#fff" stroke="#000" stroke-width="1.7"/>
<text x="767.8" y="263.7" font-size="22.5" text-anchor="middle" font-family="&quot;Liberation Serif&quot;, serif" stroke="#000" stroke-width="0.35">8</text>
<path d="M822.9 290.3L805.0 283.2" stroke="#000" stroke-width="2" fill="none"/>
<path d="M797.6 280.3L806.8 281.5L805.1 285.7Z" fill="#000"/>
<circle cx="812.9" cy="265.5" r="11" fill="#fff" stroke="#000" stroke-width="1.7"/>
<text x="812.9" y="273.0" font-size="22.5" text-anchor="middle" font-family="&quot;Liberation Serif&quot;, serif" stroke="#000" stroke-width="0.35">9</text>
<path d="M747.2 280.3L750.6 281.6L747.4 293.2L744.3 291.6Z" fill="#fff" stroke="#000" stroke-width="1.1" />
<circle cx="771.5" cy="297.4" r="25" fill="#fff" stroke="#000" stroke-width="1.6"/>
<path d="M832.2 275.6 C836.5 277 836.5 284 831.5 294 C828 300.5 824.5 304.5 822.5 304 C820 303.4 820 300.5 820.6 298.5" fill="none" stroke="#000" stroke-width="2.8" />
<path d="M832.2 275.6 C836.5 277 836.5 284 831.5 294 C828 300.5 824.5 304.5 822.5 304 C820 303.4 820 300.5 820.6 298.5" fill="none" stroke="#fff" stroke-width="0.7" />
<path d="M826 284.3L828.6 276.6L833.4 280.4Z" fill="#000"/>
<path d="M633.2 321.3H740.8V368.4H633.2Z" fill="#fff" stroke="#000" stroke-width="1.4" />
<path d="M648.7 332.3 C650.5 331 652 330.4 653.7 330.2 L663.7 330.5 C665.5 330.8 666.6 331.4 667.4 332.3 L672.4 342.3 C674 345 676 346.8 678.6 348.6 L684.3 352.3" fill="none" stroke="#000" stroke-width="1.1" />
<path d="M650.6 344.8 L658.7 350.4 C661 352 662.6 353.2 664.3 353.5 C666.5 353.6 668.2 353.4 669.9 354.2 C671.5 355 673 356 674.3 357.3 L678.4 362.3" fill="none" stroke="#000" stroke-width="1.1" />
<path d="M635.6 339.2 C636.5 337.6 639 337.2 641.6 338 L641.8 341.8 C639.5 342.8 636.6 342.2 635.6 339.2Z" fill="#000"/>
<path d="M642 334.5 C642.8 332.6 645.5 332.6 646 334.6 C647.5 335.3 647.6 337 646.4 337.8 L646.8 341.5 C647.6 342.6 647.2 344.4 645.6 344.6 L642.6 344.8 C641.4 344 641.6 342.3 642.6 341.6 L642.2 337.8 C641 337 641 335.3 642 334.5Z" fill="#fff" stroke="#000" stroke-width="1.0" />
<path d="M642.3 338H646.6M642.6 341.5H646.8" fill="none" stroke="#000" stroke-width="0.8" />
<path d="M648.5 336 C650 334.5 652 334 654 334.8 L655.5 337.5 L661 336.2 L663.5 338 L660 343.5 L655 342.5 L653 344.6 L650 343.8 L649.5 340 L647.8 339Z" fill="#fff" stroke="#000" stroke-width="1.0" />
<path d="M655 333.4L660.5 335.6L664 334.5M655.5 337.5L654.6 341M660 343.5L661.2 345.6" fill="none" stroke="#000" stroke-width="0.9" />
<path d="M639.4 349.6L654 362.5L683.9 332.6" fill="none" stroke="#000" stroke-width="1.5" />
<path d="M701.2 332 C703.5 330.8 706 330.3 708.7 330.2 L719.3 330.7 C721 331.4 722.2 332.6 723 334.2 L727.4 341.7 C729 344 731 346.2 733 347.9 L739.3 351.9" fill="none" stroke="#000" stroke-width="1.1" />
<path d="M702.5 343.6 L709.9 349.2 C712 350.8 714 352.2 716.2 352.9 C718.4 353.4 720.4 353.4 722.4 354.2 C724.4 354.8 726 355.6 727.4 356.7 L731.8 361" fill="none" stroke="#000" stroke-width="1.1" />
<path d="M690 339.4 C690.6 337.6 692.6 337.2 694.4 337.8 L694.6 341.4 C692.8 342.2 690.8 341.8 690 339.4Z" fill="#000"/>
<path d="M694.4 337.8 L700.5 337.2 C702 337.8 702 340.4 700.6 341 L694.6 341.4" fill="#fff" stroke="#000" stroke-width="0.9" />
<path d="M703 334 C706 332.8 709 333 711.5 334.4 L715 337.5 L718 336.5 M704 336.5 L708 339 L712.5 338.5 L715.5 341.5 M703 339.8 L707 342.5 L711 342 L714 345.5 M716 341 L718.5 344.5 L717 348" fill="none" stroke="#000" stroke-width="0.9" />
<path d="M700.6 332L732.4 362.7M701.2 362.3L732.1 332" fill="none" stroke="#000" stroke-width="1.5" />
<path d="M724.6 355.2L732.4 362.7" fill="none" stroke="#000" stroke-width="2.4" />
</svg>
</body></html>
